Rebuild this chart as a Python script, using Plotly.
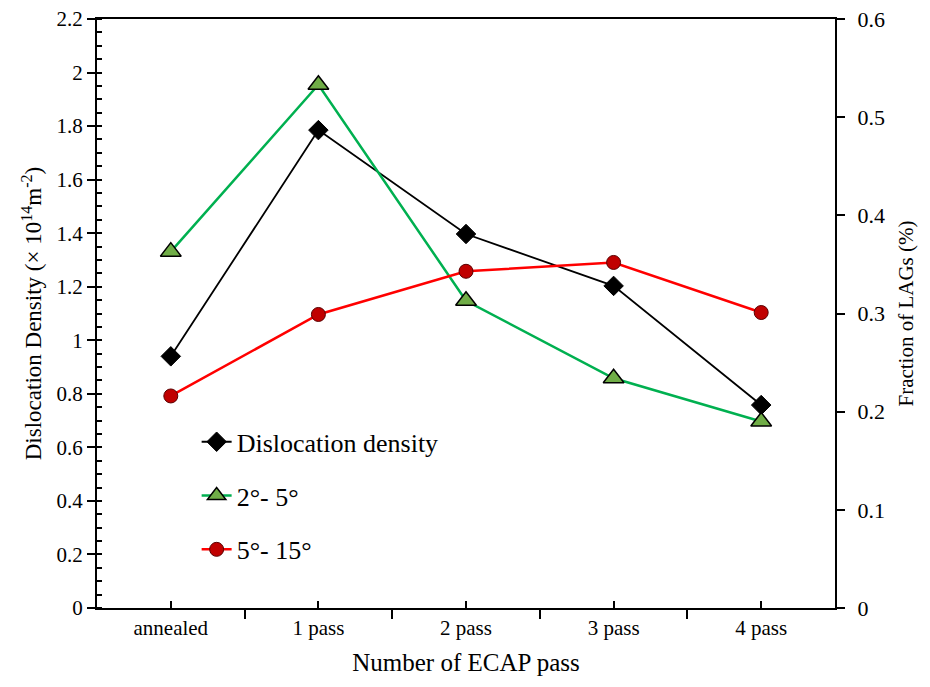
import plotly.graph_objects as go

categories = ["annealed", "1 pass", "2 pass", "3 pass", "4 pass"]
dislocation_density = [0.94, 1.785, 1.397, 1.203, 0.758]
lags_2_5 = [0.363, 0.533, 0.313, 0.234, 0.190]
lags_5_15 = [0.216, 0.299, 0.343, 0.352, 0.301]

xpos = list(range(len(categories)))
FONT = "'Times New Roman', 'Liberation Serif', Tinos, serif"

fig = go.Figure()
fig.add_trace(go.Scatter(
    x=xpos, y=dislocation_density, name="Dislocation density",
    mode="lines+markers", legendgroup="a",
    line=dict(color="black", width=1.8),
    marker=dict(symbol="diamond", size=15, color="black", line=dict(color="black", width=1)),
))
fig.add_trace(go.Scatter(
    x=xpos, y=lags_2_5, name="2°- 5°", yaxis="y2",
    mode="lines+markers", legendgroup="b",
    line=dict(color="#00B050", width=2.5),
    marker=dict(symbol="triangle-up", size=18, color="#70AD47", line=dict(color="black", width=1.5)),
))
fig.add_trace(go.Scatter(
    x=xpos, y=lags_5_15, name="5°- 15°", yaxis="y2",
    mode="lines+markers", legendgroup="c",
    line=dict(color="#FF0000", width=2.5),
    marker=dict(symbol="circle", size=14, color="#C00000", line=dict(color="#5a0000", width=1)),
))

fig.update_layout(
    width=930, height=687,
    margin=dict(l=97, r=95, t=19, b=79, autoexpand=False),
    paper_bgcolor="white", plot_bgcolor="white",
    font=dict(family=FONT, size=20, color="black"),
    showlegend=True,
    legend=dict(
        x=0.135, y=0.322, xanchor="left", yanchor="top",
        font=dict(family=FONT, size=26, color="black"),
        traceorder="grouped", tracegroupgap=17,
        bgcolor="rgba(0,0,0,0)", itemwidth=30,
    ),
    xaxis=dict(
        range=[-0.5, len(categories) - 0.5], automargin=False,
        tickmode="array", tickvals=xpos, ticktext=categories,
        ticks="inside", ticklen=7, tickwidth=1.5, tickcolor="black",
        minor=dict(tick0=-0.5, dtick=1, ticks="outside", ticklen=9, tickwidth=1.5, tickcolor="black", showgrid=False),
        showline=True, linecolor="black", linewidth=2, mirror=True,
        showgrid=False, zeroline=False,
        tickfont=dict(family=FONT, size=21),
        title=dict(text="Number of ECAP pass", font=dict(family=FONT, size=25), standoff=14),
    ),
    yaxis=dict(
        range=[0, 2.2], automargin=False,
        tickvals=[0, 0.2, 0.4, 0.6, 0.8, 1, 1.2, 1.4, 1.6, 1.8, 2, 2.2],
        ticktext=["0", "0.2", "0.4", "0.6", "0.8", "1", "1.2", "1.4", "1.6", "1.8", "2", "2.2"],
        ticks="outside", ticklen=8, tickwidth=1.5, tickcolor="black",
        minor=dict(dtick=0.05, tick0=0, ticks="inside", ticklen=5, tickwidth=1.5, tickcolor="black", showgrid=False),
        showline=True, linecolor="black", linewidth=2,
        showgrid=False, zeroline=False,
        tickfont=dict(family=FONT, size=21),
        title=dict(text="Dislocation Density (× 10<sup>14</sup>m<sup>-2</sup>)", font=dict(family=FONT, size=23), standoff=8),
    ),
    yaxis2=dict(
        range=[0, 0.6], overlaying="y", side="right", automargin=False,
        tickvals=[0, 0.1, 0.2, 0.3, 0.4, 0.5, 0.6],
        ticktext=["0", "0.1", "0.2", "0.3", "0.4", "0.5", "0.6"],
        ticks="outside", ticklen=8, tickwidth=1.5, tickcolor="black",
        ticklabelstandoff=8,
        showline=True, linecolor="black", linewidth=2,
        showgrid=False, zeroline=False,
        tickfont=dict(family=FONT, size=22),
        title=dict(text="Fraction of LAGs (%)", font=dict(family=FONT, size=21), standoff=14),
    ),
)

fig.write_html("out.html")
